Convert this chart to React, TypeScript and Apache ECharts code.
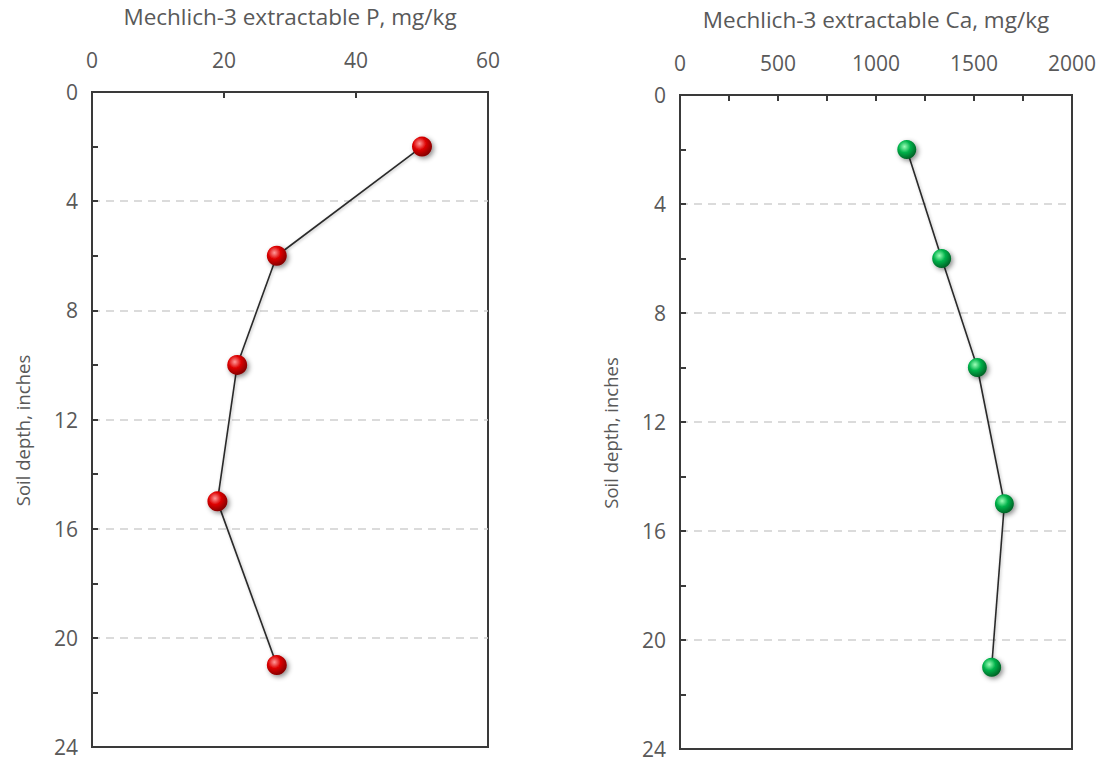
import React, { useEffect, useRef } from "react";
import * as echarts from "echarts";

const depthP = [2, 6, 10, 15, 21];
const valuesP = [50, 28, 22, 19, 28];
const depthCa = [2, 6, 10, 15, 21];
const valuesCa = [1157, 1335, 1517, 1655, 1590];
const titleP = "Mechlich-3 extractable P, mg/kg";
const titleCa = "Mechlich-3 extractable Ca, mg/kg";
const depthTitle = "Soil depth, inches";

const FONT = "Open Sans";
const TXT = "#595959";
const BORDER = "#3a3a3a";

function sphere(light: string, mid: string, dark: string) {
  return new echarts.graphic.RadialGradient(0.38, 0.35, 0.7, [
    { offset: 0, color: light },
    { offset: 0.45, color: mid },
    { offset: 1, color: dark },
  ]);
}

export default function App() {
  const ref = useRef<HTMLDivElement>(null);
  useEffect(() => {
    const chart = echarts.init(ref.current!, undefined, { renderer: "svg" });
    const yAxisBase = (gridIndex: number) => ({
      type: "value",
      gridIndex,
      inverse: true,
      min: 0,
      max: 24,
      interval: 4,
      name: depthTitle,
      nameLocation: "middle",
      nameGap: 60,
      nameTextStyle: { color: TXT, fontFamily: FONT, fontSize: 18.5, padding: [0, 22, 0, 0] },
      axisLine: { show: true, lineStyle: { color: BORDER, width: 2 } },
      axisTick: { show: true, inside: true, length: 6, lineStyle: { color: BORDER, width: 2 } },
      minorTick: { show: true, splitNumber: 2, length: 6, lineStyle: { color: BORDER, width: 2 } },
      axisLabel: { color: TXT, fontFamily: FONT, fontSize: 21, margin: 14 },
      splitLine: {
        show: true,
        showMinLine: false,
        showMaxLine: false,
        lineStyle: { color: "#cfcfcf", width: 1.5, type: [8, 6] },
      },
    });
    const xAxisBase = (gridIndex: number, max: number, interval: number, title: string, minor: boolean) => ({
      type: "value",
      gridIndex,
      position: "top",
      min: 0,
      max,
      interval,
      name: title,
      nameLocation: "middle",
      nameGap: 64,
      nameTextStyle: { color: TXT, fontFamily: FONT, fontSize: 22.5 },
      axisLine: { show: true, lineStyle: { color: BORDER, width: 2 } },
      axisTick: { show: true, inside: true, length: 6, lineStyle: { color: BORDER, width: 2 } },
      minorTick: { show: minor, splitNumber: 2, length: 6, lineStyle: { color: BORDER, width: 2 } },
      axisLabel: { color: TXT, fontFamily: FONT, fontSize: 21, margin: 22, formatter: (v: number) => String(v) },
      splitLine: { show: false },
    });
    const lineStyle = { color: "#2b2b2b", width: 1.6, shadowBlur: 3, shadowColor: "rgba(0,0,0,0.25)", shadowOffsetX: 1, shadowOffsetY: 1 };
    chart.setOption({
      animation: false,
      backgroundColor: "#ffffff",
      grid: [
        { left: 92, top: 92, width: 396, height: 655, show: true, borderColor: BORDER, borderWidth: 2, backgroundColor: "transparent" },
        { left: 680, top: 95, width: 392, height: 654, show: true, borderColor: BORDER, borderWidth: 2, backgroundColor: "transparent" },
      ],
      xAxis: [
        xAxisBase(0, 60, 20, titleP, false),
        xAxisBase(1, 2000, 500, titleCa, true),
      ],
      yAxis: [yAxisBase(0), yAxisBase(1)],
      series: [
        {
          type: "line",
          xAxisIndex: 0,
          yAxisIndex: 0,
          data: valuesP.map((v, i) => [v, depthP[i]]),
          symbol: "circle",
          symbolSize: 20,
          lineStyle,
          itemStyle: {
            color: sphere("#ff9a9a", "#dd0000", "#7a0000"),
            shadowBlur: 5,
            shadowColor: "rgba(0,0,0,0.45)",
            shadowOffsetX: 2,
            shadowOffsetY: 2,
          },
        },
        {
          type: "line",
          xAxisIndex: 1,
          yAxisIndex: 1,
          data: valuesCa.map((v, i) => [v, depthCa[i]]),
          symbol: "circle",
          symbolSize: 19,
          lineStyle,
          itemStyle: {
            color: sphere("#9dffb8", "#00b24a", "#005a22"),
            shadowBlur: 5,
            shadowColor: "rgba(0,0,0,0.45)",
            shadowOffsetX: 2,
            shadowOffsetY: 2,
          },
        },
      ],
    });
    return () => chart.dispose();
  }, []);
  return (
    <div
      ref={ref}
      style={{ position: "fixed", left: 0, top: 0, width: 1110, height: 763 }}
    />
  );
}
